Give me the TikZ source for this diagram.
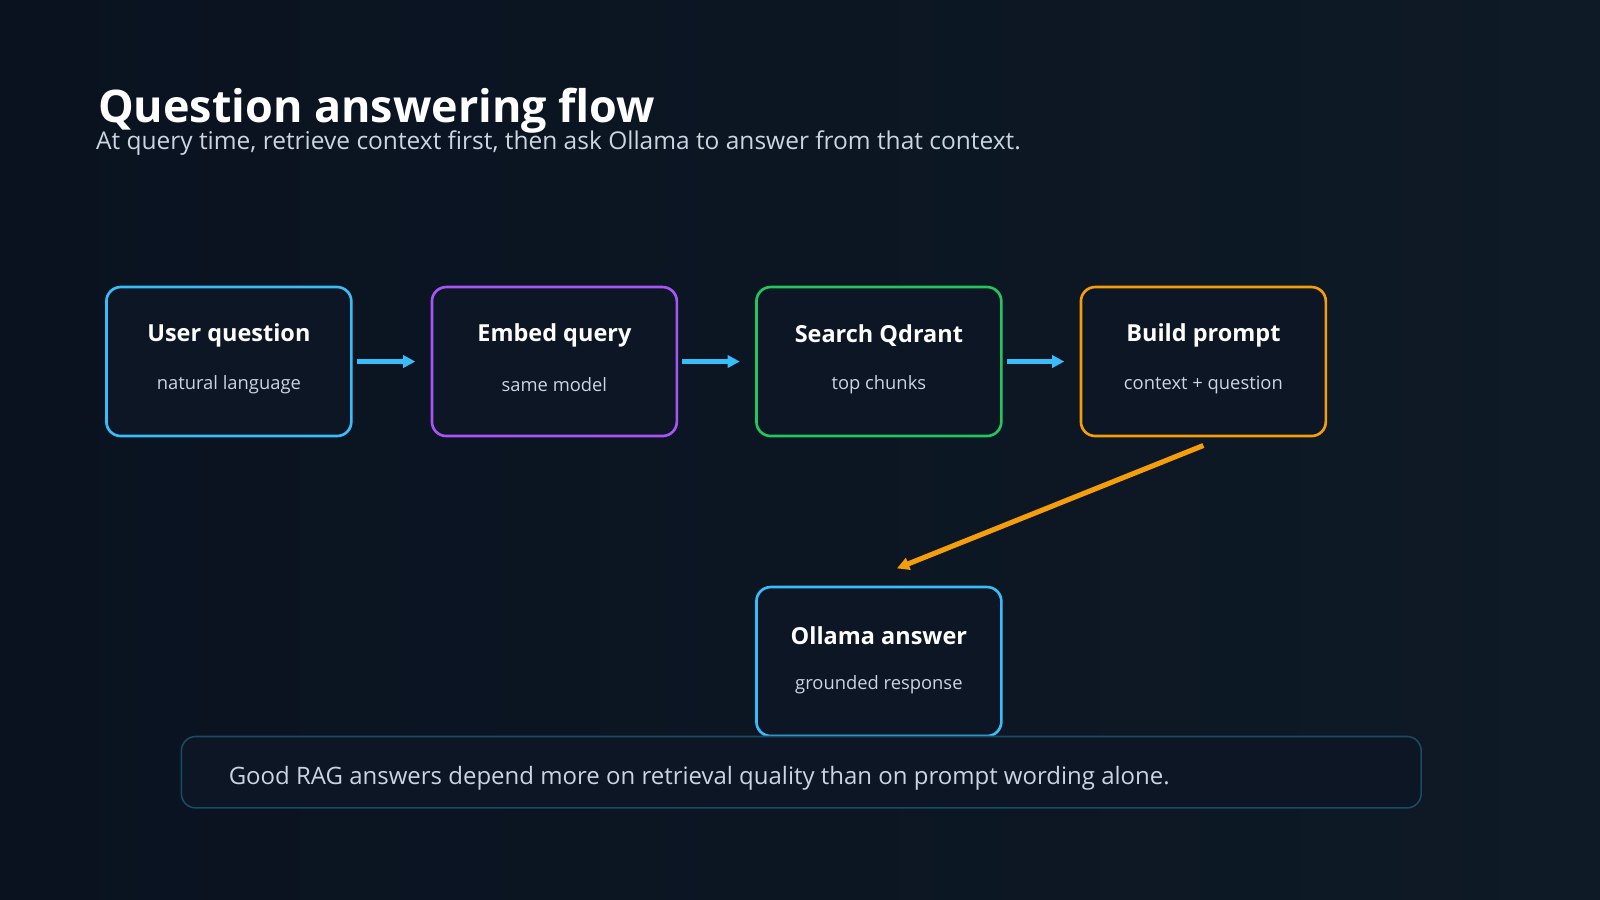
\documentclass[tikz,border=0pt]{standalone}
\usepackage{fontspec}
\setmainfont{Open Sans}
\usetikzlibrary{arrows.meta}
\definecolor{bgA}{HTML}{0A1220}
\definecolor{bgB}{HTML}{0E1A26}
\definecolor{boxf}{HTML}{0C1624}
\definecolor{cblue}{HTML}{38BDF8}
\definecolor{cpurp}{HTML}{A855F7}
\definecolor{cgreen}{HTML}{22C55E}
\definecolor{corange}{HTML}{F59E0B}
\definecolor{subt}{HTML}{CBD5E1}
\tikzset{
 box/.style={draw=#1, line width=2.6pt, fill=boxf, rounded corners=14pt, minimum width=240pt, minimum height=146pt, anchor=north west},
 ttl/.style={text=white, font=\fontsize{23}{26}\selectfont\bfseries},
 sub/.style={text=subt, font=\fontsize{18}{22}\selectfont},
 flow/.style={-{Triangle[length=12pt,width=12pt]}, line width=5pt, draw=#1}
}
\begin{document}
\begin{tikzpicture}[x=1pt,y=-1pt]
\shade[left color=bgA, right color=bgB] (0,0) rectangle (1568,882);
\useasboundingbox (0,0) rectangle (1568,882);
\node[anchor=base west, text=white, font=\fontsize{44}{48}\selectfont\bfseries, inner sep=0] (title) at (96,120) {Question answering flow};
\node[anchor=base west, text=subt, font=\fontsize{24}{28}\selectfont, inner sep=0] (subtitle) at (94,147) {At query time, retrieve context first, then ask Ollama to answer from that context.};

\node[box=cblue] (b1) at (103,280) {};
\node[box=cpurp] (b2) at (422,280) {};
\node[box=cgreen] (b3) at (740,280) {};
\node[box=corange] (b4) at (1058,280) {};
\node[box=cblue] (b5) at (740,574) {};

\foreach \n/\t/\s in {b1/User question/natural language, b2/Embed query/same model, b3/Search Qdrant/top chunks, b4/Build prompt/context + question, b5/Ollama answer/grounded response}{
 \node[ttl] at ([yshift=-49pt]\n.north) {\t};
 \node[sub] at ([yshift=-97pt]\n.north) {\s};
}

\draw[flow=cblue] ([xshift=4pt]b1.east) -- ([xshift=-15pt]b2.west);
\draw[flow=cblue] ([xshift=4pt]b2.east) -- ([xshift=-15pt]b3.west);
\draw[flow=cblue] ([xshift=4pt]b3.east) -- ([xshift=-15pt]b4.west);
\coordinate (oe) at (879,557);
\draw[flow=corange] ([yshift=-8pt]b4.south) -- (oe);

\node[draw=cblue!30!bgB, line width=1.5pt, fill=boxf, rounded corners=14pt, minimum width=1215pt, minimum height=70pt, anchor=north west] (note) at (177,721) {};
\node[anchor=west, text=subt, font=\fontsize{23.5}{28}\selectfont, inner sep=0] at (224,763) {Good RAG answers depend more on retrieval quality than on prompt wording alone.};
\end{tikzpicture}
\end{document}
